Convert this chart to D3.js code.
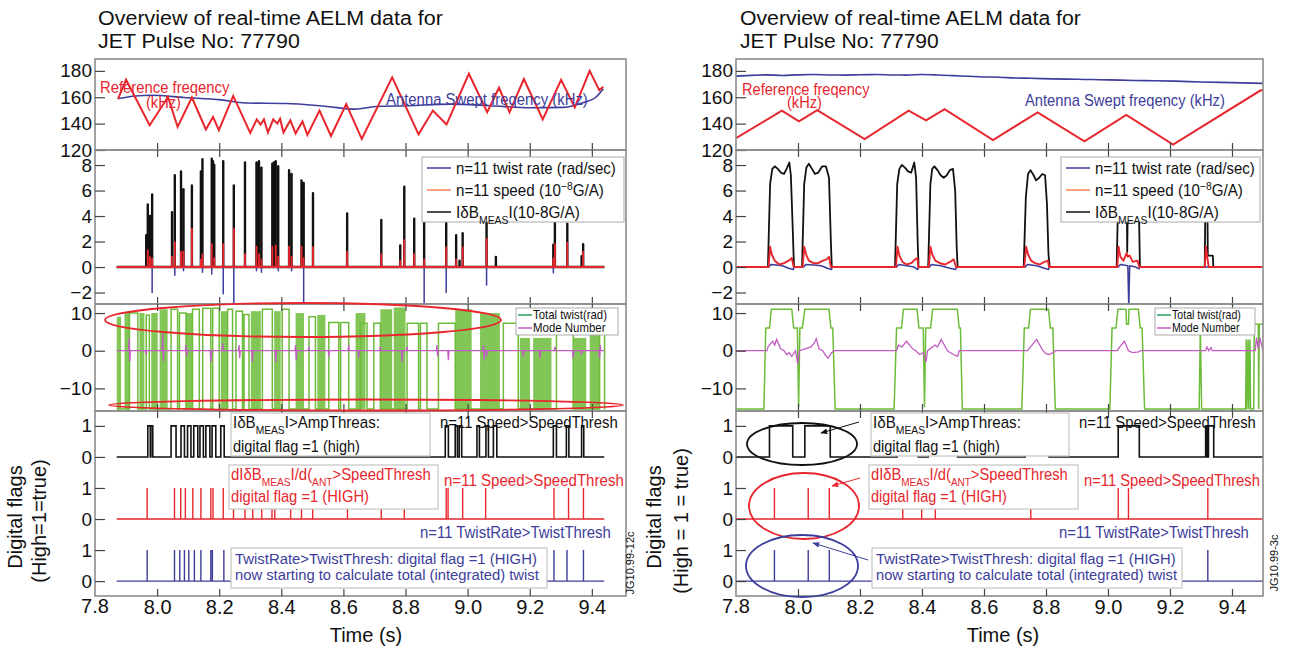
<!DOCTYPE html>
<html>
<head>
<meta charset="utf-8">
<script src="https://cdnjs.cloudflare.com/ajax/libs/d3/7.8.5/d3.min.js"></script>
<style>
  body { margin: 0; background: #fff; }
  svg { font-family: "Liberation Sans", Arial, sans-serif; }
</style>
</head>
<body>
<svg id="fig" width="1289" height="653"></svg>
<script>
// ---------- tick values ----------
const timeTicks = [7.8, 8.0, 8.2, 8.4, 8.6, 8.8, 9.0, 9.2, 9.4];
const freqTicks = [120, 140, 160, 180];
const ampTicks = [-2, 0, 2, 4, 6, 8];
const twistTicks = [-10, 0, 10];
const flagTicks = [0, 1, 2, 3, 4, 5];
const flagTickLabels = ["0", "1", "0", "1", "0", "1"];
const twistFloor = -15.5;

// ---------- left pulse ----------
const refFreqL = [[7.874,158.5],[7.900,173.3],[7.976,138.8],[8.035,160.2],[8.066,137.5],[8.112,159.8],[8.157,135.6],[8.180,145],[8.199,135],[8.245,161],[8.300,133],[8.321,143.2],[8.333,139.3],[8.344,143.2],[8.357,133.3],[8.374,143.2],[8.387,140],[8.396,143.7],[8.407,133.3],[8.429,142.5],[8.446,132.6],[8.468,141.7],[8.484,131.4],[8.523,149.9],[8.560,130.6],[8.609,154.8],[8.659,128.4],[8.757,175.1],[8.842,131.9],[8.888,149.9],[8.932,139.3],[9.004,177.8],[9.063,148.6],[9.101,167.2],[9.135,148.6],[9.181,173.8],[9.242,143.2],[9.301,173.3],[9.345,152.3],[9.393,180],[9.424,165.4],[9.437,167.9]];
const sweptFreqL = [[7.874,159],[7.930,161],[7.983,161.5],[8.088,159.8],[8.206,158],[8.285,155.6],[8.416,155.3],[8.547,153],[8.639,151],[8.705,153],[8.810,153.6],[8.941,154.8],[9.072,153.6],[9.203,152],[9.308,152.3],[9.374,156],[9.413,160],[9.437,166.4]];

const ampSpikesL = [[7.965,2.5],[7.970,4.9],[7.977,4.0],[7.984,5.7],[8.048,4.3],[8.057,7.2],[8.077,7.5],[8.085,6.1],[8.112,6.4],[8.141,7.5],[8.146,8.45],[8.176,8.5],[8.180,8.3],[8.184,8.0],[8.213,8.3],[8.247,6.4],[8.283,8.2],[8.320,8.2],[8.324,8.1],[8.328,8.3],[8.336,7.8],[8.371,8.1],[8.376,8.2],[8.382,8.3],[8.390,7.9],[8.425,7.6],[8.433,7.3],[8.465,6.8],[8.472,6.6],[8.502,5.8],[8.612,4.2],[8.722,3.7],[8.783,1.7],[8.796,6.3],[8.828,3.8],[8.860,3.7],[8.931,3.6],[8.963,2.5],[8.974,0.5],[8.984,2.65],[9.061,3.6],[9.091,0.8],[9.276,1.75],[9.281,3.6],[9.321,3.4],[9.367,0.85],[9.372,1.8]];
const speedSpikesL = [[7.970,1.3],[7.977,0.8],[7.984,0.65],[8.048,0.8],[8.057,1.95],[8.077,1.2],[8.085,1.2],[8.112,3.0],[8.141,0.6],[8.146,1.0],[8.176,1.8],[8.184,0.7],[8.213,1.8],[8.247,3.0],[8.283,1.0],[8.320,1.6],[8.328,1.0],[8.336,0.6],[8.371,1.6],[8.382,1.7],[8.390,0.8],[8.425,1.6],[8.433,0.8],[8.465,1.6],[8.472,0.7],[8.502,1.55],[8.612,1.2],[8.722,1.0],[8.783,0.5],[8.796,2.1],[8.828,1.0],[8.860,0.6],[8.931,1.55],[8.963,0.6],[8.984,1.55],[9.061,2.2],[9.276,0.65],[9.281,1.8],[9.321,1.9],[9.372,1.2]];
const twistRateSpikesL = [[7.984,-2.0],[8.057,-0.65],[8.085,-0.3],[8.146,-0.4],[8.176,-0.55],[8.213,-2.1],[8.247,-2.9],[8.320,-0.3],[8.336,-0.4],[8.390,-0.3],[8.433,-0.3],[8.472,-2.9],[8.860,-2.9],[8.931,-2.0],[9.061,-1.4],[9.276,-0.45]];

// total twist: hollow high plateaus and densely toggling stretches [t0, t1, top]
const twistHighL = [[7.911,7.938,10],[7.965,7.975,9.5],[8.045,8.066,11],[8.072,8.093,10],[8.114,8.136,11],[8.147,8.173,11.3],[8.179,8.200,11.3],[8.227,8.243,11],[8.254,8.275,10.5],[8.280,8.296,9.6],[8.339,8.371,11],[8.403,8.425,11],[8.489,8.510,9],[8.553,8.585,7.5],[8.591,8.617,7.5],[8.655,8.676,7.3],[8.698,8.719,7.3],[8.805,8.842,7.3],[8.848,8.869,7.3],[8.906,8.960,7.3],[9.115,9.163,7.3],[9.286,9.340,7.3],[9.425,9.441,7.3]];
const twistDenseL = [[7.870,7.884,9],[7.895,7.911,10],[7.943,7.959,10],[7.981,8.002,10],[8.008,8.034,11],[8.093,8.114,10],[8.205,8.227,10.5],[8.302,8.334,10.5],[8.377,8.398,10.5],[8.446,8.473,10],[8.516,8.542,9.5],[8.639,8.671,10],[8.719,8.757,11],[8.762,8.800,11.5],[8.960,9.013,11],[9.040,9.104,10],[9.168,9.201,3.4],[9.211,9.270,3.4],[9.340,9.382,3.4],[9.393,9.425,4.7]];
const modeL = [[7.870,0],[7.908,0],[7.910,3.4],[7.912,-2.8],[7.914,0],[7.963,0],[7.965,-1],[7.967,0],[8.016,0],[8.018,4.5],[8.020,-2.8],[8.022,0],[8.091,0],[8.093,1.5],[8.095,-1.5],[8.097,0],[8.171,0],[8.173,-3],[8.175,0],[8.209,0],[8.211,2],[8.213,0],[8.262,0],[8.264,1.5],[8.266,-2],[8.268,0],[8.305,0],[8.307,-3],[8.309,0],[8.380,0],[8.382,-3],[8.384,0],[8.444,0],[8.446,1.5],[8.448,-2.5],[8.450,0],[8.487,0],[8.489,1],[8.491,0],[8.551,0],[8.553,-1.5],[8.555,0],[8.615,0],[8.617,1.5],[8.619,0],[8.647,0],[8.649,-2],[8.651,0],[8.717,0],[8.719,1],[8.721,0],[8.787,0],[8.789,-3],[8.791,0],[8.803,0],[8.805,1],[8.807,0],[8.899,0],[8.901,1.5],[8.903,-1.5],[8.905,0],[8.936,0],[8.938,-2.5],[8.940,0],[9.049,0],[9.051,1.5],[9.053,-2.5],[9.055,0],[9.059,0],[9.061,-1.5],[9.063,0],[9.177,0],[9.179,-1.5],[9.181,0],[9.231,0],[9.233,-2],[9.235,0],[9.279,0],[9.281,1],[9.283,0],[9.338,0],[9.340,-2],[9.342,0],[9.365,0],[9.367,-1],[9.369,0],[9.423,0],[9.425,-2],[9.427,1.5],[9.429,0],[9.440,0]];

const ampFlagL = [[7.970,7.978],[7.980,7.986],[8.045,8.061],[8.077,8.088],[8.098,8.109],[8.118,8.131],[8.138,8.149],[8.157,8.170],[8.177,8.189],[8.205,8.216],[8.928,8.938],[8.960,8.967],[8.973,8.981],[9.030,9.038],[9.059,9.067],[9.083,9.094],[9.276,9.286],[9.318,9.326],[9.367,9.374]];
const speedFlagL = [7.968,8.056,8.076,8.091,8.115,8.141,8.173,8.180,8.213,8.246,8.283,8.308,8.337,8.370,8.379,8.430,8.465,8.501,8.613,8.722,8.796,8.931,8.937,8.984,9.058,9.278,9.325,9.373];
const twistFlagL = [7.968,8.056,8.073,8.088,8.102,8.120,8.141,8.173,8.178,8.215,8.246,8.472,8.860,8.931,9.061,9.278,9.320,9.373];

// ---------- right pulse ----------
const refFreqR = [[7.800,129],[7.948,149.8],[8.003,141.7],[8.062,150.2],[8.215,128.3],[8.357,149.8],[8.413,142.4],[8.473,151],[8.629,127.6],[8.773,148.5],[8.924,126.6],[9.059,146.6],[9.210,124.1],[9.490,164.9],[9.500,165.6]];
const sweptFreqR = [[7.80,176],[7.85,176.6],[7.90,177],[7.95,176.5],[8.00,177],[8.05,177.2],[8.10,176.9],[8.15,176.8],[8.20,177.1],[8.25,177.2],[8.30,176.9],[8.35,176.8],[8.40,177.2],[8.45,176.9],[8.50,176.4],[8.55,175.9],[8.60,175.4],[8.65,175.2],[8.70,174.6],[8.75,174.4],[8.82,173.9],[8.90,173.6],[8.95,173.4],[9.00,173.2],[9.085,172.7],[9.15,172.5],[9.217,172.2],[9.30,171.6],[9.40,171.1],[9.50,170.5]];

const ampR = [[7.80,0],[7.903,0],[7.910,6.5],[7.917,7.7],[7.925,7.9],[7.935,7.7],[7.945,7.4],[7.955,7.3],[7.965,7.8],[7.972,8.2],[7.977,7.2],[7.983,3],[7.987,0],[8.013,0],[8.020,6.5],[8.027,7.8],[8.035,8.1],[8.045,7.7],[8.055,7.3],[8.065,7.4],[8.078,7.9],[8.090,7.9],[8.100,7.0],[8.106,2],[8.109,0],[8.313,0],[8.320,6.5],[8.327,7.7],[8.335,8.0],[8.345,7.8],[8.355,7.5],[8.365,7.4],[8.375,8.2],[8.381,7.0],[8.386,2],[8.389,0],[8.420,0],[8.427,6.5],[8.433,7.7],[8.440,7.9],[8.450,7.6],[8.460,7.2],[8.470,7.0],[8.480,7.2],[8.490,7.6],[8.500,7.7],[8.507,6],[8.512,1.5],[8.515,0],[8.728,0],[8.735,5.5],[8.742,7.3],[8.750,7.6],[8.760,7.2],[8.768,6.8],[8.778,7.0],[8.788,7.3],[8.797,7.2],[8.803,5],[8.808,1],[8.812,0],[9.028,0],[9.034,7],[9.060,7],[9.062,1.2],[9.065,7],[9.098,7],[9.103,0],[9.312,0],[9.315,7],[9.320,7],[9.322,0.9],[9.338,0.9],[9.340,0],[9.50,0]];
const speedR = [[7.80,0],[7.905,0],[7.910,1.6],[7.915,1.0],[7.925,0.5],[7.940,0.2],[7.955,0.3],[7.970,0.5],[7.980,0.7],[7.986,0],[8.015,0],[8.020,1.6],[8.026,1.0],[8.035,0.5],[8.050,0.3],[8.065,0.3],[8.080,0.5],[8.092,0.6],[8.100,0.8],[8.106,0],[8.316,0],[8.321,1.6],[8.327,0.9],[8.337,0.4],[8.350,0.2],[8.365,0.3],[8.378,0.6],[8.385,0.7],[8.388,0],[8.422,0],[8.427,1.6],[8.433,1.0],[8.443,0.5],[8.458,0.3],[8.475,0.2],[8.490,0.4],[8.502,0.6],[8.510,0],[8.730,0],[8.736,1.6],[8.742,1.0],[8.752,0.5],[8.765,0.3],[8.780,0.2],[8.795,0.4],[8.806,0.5],[8.810,0],[9.030,0],[9.034,1.6],[9.040,0.8],[9.050,0.5],[9.060,1.1],[9.064,0.8],[9.070,0.9],[9.080,0.4],[9.095,0.5],[9.101,0],[9.312,0],[9.316,1.6],[9.320,0.8],[9.325,0],[9.50,0]];
const twistRateR = [[7.80,0],[7.906,0],[7.912,0.2],[7.930,0.15],[7.950,0.1],[7.970,-0.1],[7.985,-0.2],[7.988,0],[8.018,0],[8.025,0.2],[8.050,0.15],[8.075,0.1],[8.095,-0.1],[8.108,-0.2],[8.110,0],[8.318,0],[8.325,0.2],[8.350,0.1],[8.375,0],[8.386,-0.2],[8.390,0],[8.424,0],[8.430,0.2],[8.460,0.1],[8.490,-0.1],[8.508,-0.2],[8.512,0],[8.733,0],[8.740,0.2],[8.770,0.1],[8.795,-0.1],[8.808,-0.2],[8.811,0],[9.033,0],[9.040,0.2],[9.064,0.1],[9.067,-3.2],[9.070,0.1],[9.090,0],[9.100,-0.15],[9.103,0],[9.50,0]];

const totalTwistR = [[7.800,-15.5],[7.890,-15.5],[7.896,6],[7.908,6],[7.914,11],[7.980,11],[7.986,6],[7.998,6],[8.002,-15],[8.006,6],[8.014,6],[8.022,11],[8.100,11],[8.106,6],[8.112,6],[8.120,-15.5],[8.310,-15.5],[8.318,6],[8.334,6],[8.340,11],[8.384,11],[8.390,6],[8.404,6],[8.408,-15],[8.412,6],[8.428,6],[8.434,11],[8.514,11],[8.520,6],[8.524,6],[8.530,-15.5],[8.722,-15.5],[8.730,6],[8.744,6],[8.750,11],[8.808,11],[8.814,6],[8.822,6],[8.830,-15.5],[9.006,-15.5],[9.013,6],[9.026,6],[9.032,11],[9.058,11],[9.060,7],[9.066,7],[9.068,11],[9.098,11],[9.104,6],[9.110,6],[9.118,-15.5],[9.294,-15.5],[9.298,6],[9.302,-15.5],[9.444,-15.5],[9.446,3],[9.448,-15.5],[9.452,3],[9.454,-15.5],[9.458,3],[9.460,-15.5],[9.470,-15.5],[9.472,7],[9.485,7],[9.486,-15.5],[9.488,7],[9.500,7]];
const modeR = [[7.80,0],[7.900,0],[7.904,1.2],[7.918,2.5],[7.925,1.5],[7.931,3.0],[7.944,0.5],[7.955,0],[7.963,-1],[7.972,-0.5],[7.980,-1.5],[7.992,0],[7.999,-3.5],[8.005,0],[8.042,1],[8.052,2],[8.059,3.2],[8.068,0.5],[8.080,0],[8.088,-1.2],[8.097,-2],[8.108,-0.5],[8.117,0],[8.318,0],[8.324,1.5],[8.335,1.0],[8.350,2.5],[8.370,0.5],[8.380,0],[8.392,-1],[8.405,-0.5],[8.413,-3],[8.418,0],[8.442,1.5],[8.450,1],[8.462,3],[8.482,0],[8.501,-1],[8.515,-1.5],[8.520,0],[8.740,0],[8.750,1],[8.770,3],[8.790,0],[8.800,-0.8],[8.810,-1],[8.823,-0.5],[8.830,0],[9.030,0],[9.038,1],[9.053,2.5],[9.066,0],[9.079,-0.5],[9.099,-0.3],[9.105,0],[9.315,0],[9.319,1],[9.325,0],[9.332,0.8],[9.336,0],[9.475,0],[9.479,3.5],[9.485,0.5],[9.490,3.5],[9.500,0]];

const ampFlagR = [[7.908,7.983],[8.022,8.104],[8.320,8.388],[8.420,8.515],[8.733,8.810],[9.033,9.101],[9.315,9.320],[9.324,9.341]];
const speedFlagR = [7.924,8.033,8.101,8.338,8.399,8.443,8.751,9.033,9.066,9.322];
const twistFlagR = [7.924,8.033,8.101,8.338,8.399,8.443,8.751,9.033,9.066,9.322];

// ---------- styling ----------
const C = { red: "#e8262d", blue: "#3d3d9b", black: "#111", green: "#6cbc3a", greenLeg: "#2e9e5b",
            magenta: "#c35cc3", orange: "#ff7f50", frame: "#8c8c8c", tick: "#444" };

const rows = [
  { y0: 59,  y1: 150, dom: [120, 189],    ticks: freqTicks },
  { y0: 150, y1: 304, dom: [-2.9, 9.18],  ticks: ampTicks },
  { y0: 304, y1: 411, dom: [-16, 12.4],   ticks: twistTicks },
  { y0: 411, y1: 596, dom: [-0.48, 5.48], ticks: flagTicks }
];

const svg = d3.select("#fig");
const defs = svg.append("defs");
[C.black, C.red, C.blue].forEach((c, i) => {
  defs.append("marker").attr("id", "arr" + i).attr("viewBox", "0 0 10 10")
    .attr("refX", 9).attr("refY", 5).attr("markerWidth", 7).attr("markerHeight", 7)
    .attr("orient", "auto")
    .append("path").attr("d", "M0,1L10,5L0,9z").attr("fill", c);
});

// squeeze a text horizontally to a measured width (reference font is a narrow one)
function fitWidth(t, x, w) {
  const bw = t.node().getBBox().width;
  if (!bw) return;
  const s = w / bw;
  t.attr("transform", `translate(${x},0) scale(${s},1) translate(${-x},0)`);
}

function richText(g, x, y, parts, o) {
  const t = g.append("text").attr("x", x).attr("y", y)
    .attr("font-size", o.size).attr("fill", o.color || C.black)
    .attr("text-anchor", o.anchor || "start");
  let shift = 0;
  parts.forEach(p => {
    const s = typeof p === "string" ? [p, ""] : p;
    const target = s[1] === "sub" ? o.size * 0.38 : s[1] === "sup" ? -o.size * 0.4 : 0;
    t.append("tspan").attr("dy", target - shift)
      .attr("font-size", s[1] ? o.size * 0.68 : o.size).text(s[0]);
    shift = target;
  });
  if (o.width) fitWidth(t, x, o.width);
  return t;
}

function spikePath(arr, t0, t1) {
  const pts = [[t0, 0]];
  arr.forEach(([t, v]) => { pts.push([t, 0], [t, v], [t, 0]); });
  pts.push([t1, 0]);
  return pts;
}
function pulsePath(arr, t0, t1, off) {
  const pts = [[t0, off]];
  arr.forEach(([a, b]) => { pts.push([a, off], [a, off + 1], [b, off + 1], [b, off]); });
  pts.push([t1, off]);
  return pts;
}
function plateauPath(arr, t0, t1, floor) {
  const pts = [[t0, floor]];
  arr.forEach(([a, b, top]) => { pts.push([a, floor], [a, top], [b, top], [b, floor]); });
  pts.push([t1, floor]);
  return pts;
}
function flagSpikePath(arr, t0, t1, off) {
  const pts = [[t0, off]];
  arr.forEach(t => { pts.push([t, off], [t, off + 1], [t, off]); });
  pts.push([t1, off]);
  return pts;
}

function drawPanel(P, id) {
  const g = svg.append("g");
  const x = d3.scaleLinear().domain(P.xDomain).range([P.x0, P.x1]);
  const ys = rows.map(r => d3.scaleLinear().domain(r.dom).range([r.y1, r.y0]));
  const line = y => d3.line().x(d => x(d[0])).y(d => y(d[1]));

  // clip each row
  const layers = rows.map((r, i) => {
    defs.append("clipPath").attr("id", `clip${id}${i}`)
      .append("rect").attr("x", P.x0).attr("y", r.y0).attr("width", P.x1 - P.x0).attr("height", r.y1 - r.y0);
    return g.append("g").attr("clip-path", `url(#clip${id}${i})`);
  });

  // row 1: frequencies
  layers[0].append("path").attr("d", line(ys[0]).curve(d3.curveMonotoneX)(P.swept))
    .attr("fill", "none").attr("stroke", C.blue).attr("stroke-width", 1.6);
  layers[0].append("path").attr("d", line(ys[0])(P.ref))
    .attr("fill", "none").attr("stroke", C.red).attr("stroke-width", 2);

  // row 2: |dB|, speed, twist rate
  [[P.amp, C.black, P.ampW], [P.rate, C.blue, 1.5], [P.speed, C.red, 1.9]].forEach(([d, c, w]) => {
    layers[1].append("path").attr("d", line(ys[1])(d)).attr("fill", "none")
      .attr("stroke", c).attr("stroke-width", w).attr("stroke-linejoin", "round");
  });

  // row 3: total twist and mode number
  if (P.dense) {
    layers[2].selectAll("rect.dense").data(P.dense).join("rect")
      .attr("x", d => x(d[0])).attr("width", d => x(d[1]) - x(d[0]))
      .attr("y", d => ys[2](d[2])).attr("height", d => ys[2](twistFloor) - ys[2](d[2]))
      .attr("fill", C.green).attr("opacity", 0.85);
  }
  layers[2].append("path").attr("d", line(ys[2])(P.twist)).attr("fill", "none")
    .attr("stroke", C.green).attr("stroke-width", 1.5);
  layers[2].append("path").attr("d", line(ys[2])(P.mode)).attr("fill", "none")
    .attr("stroke", C.magenta).attr("stroke-width", 1.3);

  // row 4: digital flags
  [[P.flagAmp, C.black, 1.6], [P.flagSpeed, C.red, 1.4], [P.flagTwist, C.blue, 1.4]].forEach(([d, c, w]) => {
    layers[3].append("path").attr("d", line(ys[3])(d)).attr("fill", "none")
      .attr("stroke", c).attr("stroke-width", w);
  });

  // frames, ticks
  rows.forEach((r, i) => {
    g.append("rect").attr("x", P.x0).attr("y", r.y0).attr("width", P.x1 - P.x0).attr("height", r.y1 - r.y0)
      .attr("fill", "none").attr("stroke", C.frame).attr("stroke-width", 1.6);
    const ya = g.append("g").attr("transform", `translate(${P.x0},0)`)
      .call(d3.axisLeft(ys[i]).tickValues(r.ticks).tickSize(-10).tickPadding(3)
        .tickFormat(i === 3 ? (d, k) => flagTickLabels[k] : d3.format("d")));
    ya.select(".domain").remove();
    ya.selectAll("line").attr("stroke", C.tick).attr("stroke-width", 1.2);
    ya.selectAll("text").attr("font-size", 19).attr("fill", C.black)
      .attr("font-family", "Liberation Sans, Arial, sans-serif");

    const xb = g.append("g").attr("transform", `translate(0,${r.y1})`)
      .call(d3.axisBottom(x).tickValues(timeTicks.slice(1)).tickSize(-7).tickPadding(4)
        .tickFormat(i === 3 ? d3.format(".1f") : ""));
    xb.select(".domain").remove();
    xb.selectAll("line").attr("stroke", C.tick).attr("stroke-width", 1.2);
    if (i > 0) {
      const xt = g.append("g").attr("transform", `translate(0,${r.y0})`)
        .call(d3.axisTop(x).tickValues(timeTicks.slice(1)).tickSize(-7).tickFormat(""));
      xt.select(".domain").remove();
      xt.selectAll("line").attr("stroke", C.tick).attr("stroke-width", 1.2);
    }
  });
  // bottom tick labels
  g.selectAll(".tick text").filter(function () { return this.textContent.indexOf(".") > 0; })
    .attr("font-size", 20).attr("fill", C.black).attr("font-family", "Liberation Sans, Arial, sans-serif");
  g.append("text").attr("x", x(P.xDomain[0])).attr("y", 613).attr("text-anchor", "middle")
    .attr("font-size", 20).attr("fill", C.black).text("7.8");

  // titles and axis titles
  richText(g, P.titleX, 25, ["Overview of real-time AELM data for"], { size: 21, width: P.titleW[0] });
  richText(g, P.titleX, 48, ["JET Pulse No: 77790"], { size: 21, width: P.titleW[1] });
  g.append("text").attr("x", P.timeX).attr("y", 642).attr("text-anchor", "middle")
    .attr("font-size", 20).attr("fill", C.black).text("Time (s)");
  P.flagTitle.forEach(([tx, ty, s]) => {
    g.append("text").attr("transform", `translate(${tx},${ty}) rotate(-90)`)
      .attr("text-anchor", "middle").attr("font-size", 20).attr("fill", C.black).text(s);
  });
  g.append("text").attr("transform", `translate(${P.jg[0]},${P.jg[1]}) rotate(-90)`)
    .attr("text-anchor", "middle").attr("font-size", 11).attr("fill", C.black).text(P.jg[2]);

  // row 1 labels
  P.freqLabels.forEach(l => richText(g, l.x, l.y, [l.s], { size: 17, color: l.c, width: l.w }));

  // row 2 legend
  const L2 = P.leg2;
  g.append("rect").attr("x", L2.x).attr("y", L2.y).attr("width", L2.w).attr("height", L2.h)
    .attr("fill", "#fff").attr("stroke", "#aaa").attr("stroke-width", 1);
  const leg2 = [
    [C.blue, ["n=11 twist rate (rad/sec)"], L2.tw[0]],
    [C.orange, ["n=11 speed (10", ["\u22128", "sup"], "G/A)"], L2.tw[1]],
    [C.black, ["I\u03b4B", ["MEAS", "sub"], "I(10-8G/A)"], L2.tw[2]]
  ];
  leg2.forEach(([c, parts, w], k) => {
    const yy = L2.y + 11 + k * 22;
    g.append("line").attr("x1", L2.x + 5).attr("x2", L2.x + 29).attr("y1", yy).attr("y2", yy)
      .attr("stroke", c).attr("stroke-width", 1.5);
    richText(g, L2.x + 34, yy + 6, parts, { size: 16, width: w });
  });

  // row 3 legend
  const L3 = P.leg3;
  g.append("rect").attr("x", L3.x).attr("y", L3.y).attr("width", L3.w).attr("height", L3.h)
    .attr("fill", "#fff").attr("stroke", "#aaa").attr("stroke-width", 1);
  [[C.greenLeg, "Total twist(rad)"], [C.magenta, "Mode Number"]].forEach(([c, s], k) => {
    const yy = L3.y + 7 + k * 13;
    g.append("line").attr("x1", L3.x + 2).attr("x2", L3.x + 16).attr("y1", yy).attr("y2", yy)
      .attr("stroke", c).attr("stroke-width", 1.5);
    richText(g, L3.x + 17, yy + 4, [s], { size: 12, width: k === 0 ? L3.tw : L3.tw * 0.98 });
  });

  // row 4 annotations
  const A = P.ann;
  [A.bBox, A.rBox, A.uBox].forEach(b => {
    g.append("rect").attr("x", b[0]).attr("y", b[1]).attr("width", b[2]).attr("height", b[3])
      .attr("fill", "#fff").attr("stroke", "#c4c4c4").attr("stroke-width", 1.2);
  });
  const tx0 = A.bBox[0] + 2;
  richText(g, tx0, 428, ["I\u03b4B", ["MEAS", "sub"], "I>AmpThreas:"], { size: 16, width: A.w[0] });
  richText(g, tx0, 452, ["digital flag =1 (high)"], { size: 16, width: A.w[1] });
  richText(g, A.rBox[0] + 2, 480, ["dI\u03b4B", ["MEAS", "sub"], "I/d(", ["ANT", "sub"], ">SpeedThresh"],
    { size: 16, color: C.red, width: A.w[2] });
  richText(g, A.rBox[0] + 2, 502, ["digital flag =1 (HIGH)"], { size: 16, color: C.red, width: A.w[3] });
  richText(g, A.uBox[0] + 4, 564, ["TwistRate>TwistThresh: digital flag =1 (HIGH)"], { size: 15, color: C.blue, width: A.w[4] });
  richText(g, A.uBox[0] + 4, 580, ["now starting to calculate total (integrated) twist"], { size: 15, color: C.blue, width: A.w[5] });
  richText(g, A.bLab[0], 428, ["n=11 Speed>SpeedThresh"], { size: 16, width: A.bLab[1] });
  richText(g, A.rLab[0], 486, ["n=11 Speed>SpeedThresh"], { size: 16, color: C.red, width: A.rLab[1] });
  richText(g, A.uLab[0], 538, ["n=11 TwistRate>TwistThresh"], { size: 16, color: C.blue, width: A.uLab[1] });

  // highlight ellipses and arrows
  (P.ellipses || []).forEach(e => {
    g.append("ellipse").attr("cx", e[0]).attr("cy", e[1]).attr("rx", e[2]).attr("ry", e[3])
      .attr("fill", "none").attr("stroke", e[4]).attr("stroke-width", 1.8);
  });
  (P.arrows || []).forEach(a => {
    g.append("line").attr("x1", a[0]).attr("y1", a[1]).attr("x2", a[2]).attr("y2", a[3])
      .attr("stroke", a[4]).attr("stroke-width", 1).attr("marker-end", `url(#arr${a[5]})`);
  });
}

// ---------- left panel ----------
drawPanel({
  x0: 95, x1: 626, xDomain: [7.8, 9.51],
  ref: refFreqL, swept: sweptFreqL,
  amp: spikePath(ampSpikesL, 7.87, 9.44), ampW: 2.4,
  speed: spikePath(speedSpikesL, 7.87, 9.44),
  rate: spikePath(twistRateSpikesL, 7.87, 9.44),
  dense: twistDenseL,
  twist: plateauPath(twistHighL, 7.87, 9.44, twistFloor),
  mode: modeL,
  flagAmp: pulsePath(ampFlagL, 7.87, 9.44, 4),
  flagSpeed: flagSpikePath(speedFlagL, 7.87, 9.44, 2),
  flagTwist: flagSpikePath(twistFlagL, 7.87, 9.44, 0),
  titleX: 98, titleW: [345, 202], timeX: 366,
  flagTitle: [[22, 517, "Digital flags"], [46, 521, "(High=1=true)"]],
  jg: [634, 563, "JG10.99-12c"],
  freqLabels: [
    { x: 100, y: 93, s: "Reference freqency", c: C.red, w: 130 },
    { x: 146, y: 108, s: "(kHz)", c: C.red, w: 35 },
    { x: 386, y: 105, s: "Antenna Swept freqency (kHz)", c: C.blue, w: 202 }
  ],
  leg2: { x: 422, y: 157, w: 202, h: 65, tw: [160, 148, 124] },
  leg3: { x: 516, y: 308, w: 102, h: 27, tw: 74 },
  ann: {
    bBox: [231, 413, 199, 43], rBox: [229, 465, 209, 44], uBox: [231, 548, 316, 40],
    w: [147, 127, 200, 138, 302, 305],
    bLab: [440, 178], rLab: [444, 180], uLab: [420, 191]
  },
  ellipses: [[303, 320, 198, 17, C.red], [366, 405, 257, 5.5, C.red]]
}, "L");

// ---------- right panel ----------
drawPanel({
  x0: 736, x1: 1263, xDomain: [7.8, 9.5],
  ref: refFreqR, swept: sweptFreqR,
  amp: ampR, ampW: 1.8, speed: speedR, rate: twistRateR,
  dense: null, twist: totalTwistR, mode: modeR,
  flagAmp: pulsePath(ampFlagR, 7.8, 9.5, 4),
  flagSpeed: flagSpikePath(speedFlagR, 7.8, 9.5, 2),
  flagTwist: flagSpikePath(twistFlagR, 7.8, 9.5, 0),
  titleX: 740, titleW: [341, 199], timeX: 1003,
  flagTitle: [[661, 517, "Digital flags"], [688, 521, "(High = 1 = true)"]],
  jg: [1278, 563, "JG10.99-3c"],
  freqLabels: [
    { x: 742, y: 95, s: "Reference freqency", c: C.red, w: 128 },
    { x: 787, y: 108, s: "(kHz)", c: C.red, w: 35 },
    { x: 1025, y: 106, s: "Antenna Swept freqency (kHz)", c: C.blue, w: 200 }
  ],
  leg2: { x: 1061, y: 157, w: 199, h: 65, tw: [160, 148, 124] },
  leg3: { x: 1155, y: 308, w: 100, h: 27, tw: 69 },
  ann: {
    bBox: [871, 413, 198, 43], rBox: [869, 465, 209, 44], uBox: [872, 548, 310, 40],
    w: [148, 127, 197, 136, 300, 302],
    bLab: [1079, 177], rLab: [1084, 176], uLab: [1059, 190]
  },
  ellipses: [[802, 444, 55, 21, C.black], [804, 506, 55, 33, C.red], [802, 566, 56, 31, C.blue]],
  arrows: [[859, 422, 821, 433, C.black, 0], [860, 478, 832, 486, C.red, 1], [868, 560, 813, 543, C.blue, 2]]
}, "R");
</script>
</body>
</html>
